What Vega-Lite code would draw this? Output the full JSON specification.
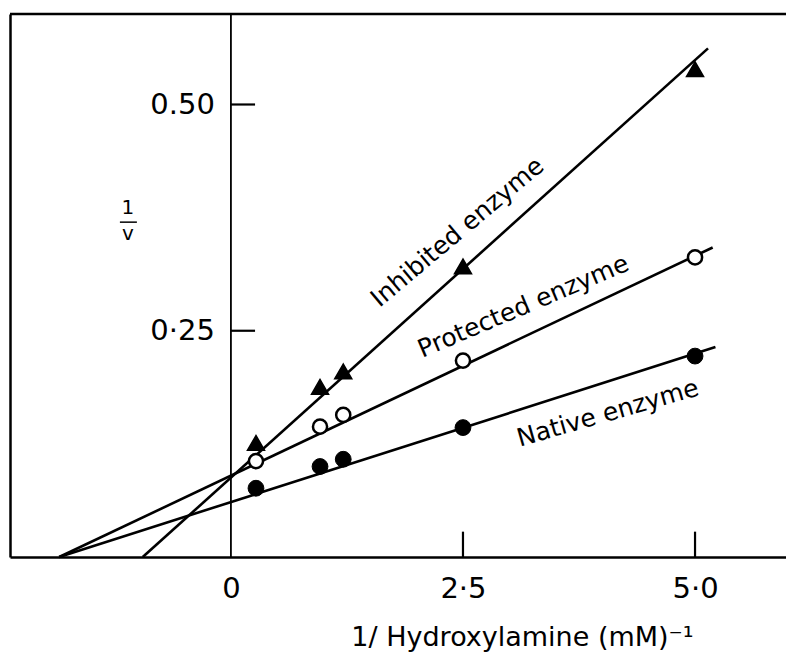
{
  "$schema": "https://vega.github.io/schema/vega-lite/v6.json",
  "width": 776,
  "height": 543,
  "autosize": {"type": "none"},
  "padding": {"left": 10, "top": 14, "right": 0, "bottom": 95},
  "background": "white",
  "config": {"view": {"stroke": null}, "font": "DejaVu Sans"},
  "datasets": {
    "points": [
      {"series": "Inhibited", "x": 0.27, "y": 0.126},
      {"series": "Inhibited", "x": 0.96, "y": 0.188},
      {"series": "Inhibited", "x": 1.21, "y": 0.205},
      {"series": "Inhibited", "x": 2.5, "y": 0.321},
      {"series": "Inhibited", "x": 5.0, "y": 0.539},
      {"series": "Protected", "x": 0.27, "y": 0.106},
      {"series": "Protected", "x": 0.96, "y": 0.144},
      {"series": "Protected", "x": 1.21, "y": 0.157},
      {"series": "Protected", "x": 2.5, "y": 0.217},
      {"series": "Protected", "x": 5.0, "y": 0.331},
      {"series": "Native", "x": 0.27, "y": 0.076},
      {"series": "Native", "x": 0.96, "y": 0.1},
      {"series": "Native", "x": 1.21, "y": 0.108},
      {"series": "Native", "x": 2.5, "y": 0.143},
      {"series": "Native", "x": 5.0, "y": 0.222}
    ],
    "lines": [
      {"series": "Inhibited", "x": -0.95, "y": 0},
      {"series": "Inhibited", "x": 5.14, "y": 0.562},
      {"series": "Protected", "x": -1.85, "y": 0},
      {"series": "Protected", "x": 5.19, "y": 0.342},
      {"series": "Native", "x": -1.85, "y": 0},
      {"series": "Native", "x": 5.22, "y": 0.232}
    ],
    "yticks": [
      {"y": 0.25, "x": 0, "x2": 0.26, "label": "0·25"},
      {"y": 0.5, "x": 0, "x2": 0.26, "label": "0.50"}
    ],
    "xticks": [
      {"x": 2.5, "y": 0, "y2": 0.028},
      {"x": 5.0, "y": 0, "y2": 0.028}
    ],
    "frame": [
      {"x": 0, "ytop": 0.6}
    ],
    "labels": [
      {"series": "Inhibited", "text": "Inhibited enzyme", "x": 2.44, "y": 0.359},
      {"series": "Protected", "text": "Protected enzyme", "x": 3.15, "y": 0.277},
      {"series": "Native", "text": "Native enzyme", "x": 4.06, "y": 0.159}
    ],
    "frac": [
      {"x": -1.11, "y": 0.386, "t": "1"},
      {"x": -1.11, "y": 0.357, "t": "v"}
    ],
    "fracbar": [
      {"x": -1.196, "x2": -1.013, "y": 0.37}
    ]
  },
  "layer": [
    {
      "data": {"name": "lines"},
      "mark": {"type": "line", "color": "black", "strokeWidth": 2.6},
      "encoding": {
        "x": {
          "field": "x", "type": "quantitative",
          "scale": {"domain": [-2.38, 5.98], "nice": false, "zero": false},
          "axis": {
            "values": [0, 2.5, 5],
            "labelExpr": "datum.value == 0 ? '0' : datum.value == 2.5 ? '2·5' : '5·0'",
            "ticks": false, "tickSize": 0, "grid": false,
            "domainColor": "black", "domainWidth": 2.5,
            "labelFontSize": 29, "labelColor": "black", "labelPadding": 40,
            "labelBaseline": "alphabetic", "labelFlush": false,
            "title": "1/ Hydroxylamine (mM)⁻¹",
            "titleFontSize": 27, "titleFontWeight": "normal", "titleColor": "black",
            "titleX": 512, "titleY": 88, "titleBaseline": "alphabetic", "titleAlign": "center"
          }
        },
        "y": {
          "field": "y", "type": "quantitative",
          "scale": {"domain": [0, 0.6], "nice": false, "zero": false},
          "axis": {
            "domain": true, "domainColor": "black", "domainWidth": 2.5,
            "ticks": false, "tickSize": 0, "labels": false, "grid": false, "title": null
          }
        },
        "detail": {"field": "series"}
      }
    },
    {
      "data": {"name": "frame"},
      "mark": {"type": "rule", "color": "black", "strokeWidth": 2.5},
      "encoding": {"y": {"field": "ytop", "type": "quantitative"}}
    },
    {
      "data": {"name": "frame"},
      "mark": {"type": "rule", "color": "black", "strokeWidth": 1.8},
      "encoding": {"x": {"field": "x", "type": "quantitative"}}
    },
    {
      "data": {"name": "yticks"},
      "mark": {"type": "rule", "color": "black", "strokeWidth": 2.2},
      "encoding": {
        "x": {"field": "x", "type": "quantitative"},
        "x2": {"field": "x2"},
        "y": {"field": "y", "type": "quantitative"}
      }
    },
    {
      "data": {"name": "yticks"},
      "mark": {"type": "text", "align": "right", "baseline": "middle", "dx": -16, "fontSize": 29, "color": "black"},
      "encoding": {
        "x": {"field": "x", "type": "quantitative"},
        "y": {"field": "y", "type": "quantitative"},
        "text": {"field": "label"}
      }
    },
    {
      "data": {"name": "xticks"},
      "mark": {"type": "rule", "color": "black", "strokeWidth": 2.2},
      "encoding": {
        "x": {"field": "x", "type": "quantitative"},
        "y": {"field": "y", "type": "quantitative"},
        "y2": {"field": "y2"}
      }
    },
    {
      "data": {"name": "points"},
      "transform": [{"filter": "datum.series == 'Inhibited'"}],
      "mark": {"type": "point", "shape": "triangle-up", "filled": true, "fill": "black", "stroke": "black", "strokeWidth": 1.5, "size": 290, "opacity": 1},
      "encoding": {
        "x": {"field": "x", "type": "quantitative"},
        "y": {"field": "y", "type": "quantitative"}
      }
    },
    {
      "data": {"name": "points"},
      "transform": [{"filter": "datum.series == 'Protected'"}],
      "mark": {"type": "point", "shape": "circle", "filled": true, "fill": "white", "stroke": "black", "strokeWidth": 2.5, "size": 200, "opacity": 1},
      "encoding": {
        "x": {"field": "x", "type": "quantitative"},
        "y": {"field": "y", "type": "quantitative"}
      }
    },
    {
      "data": {"name": "points"},
      "transform": [{"filter": "datum.series == 'Native'"}],
      "mark": {"type": "point", "shape": "circle", "filled": true, "fill": "black", "stroke": "black", "strokeWidth": 1, "size": 250, "opacity": 1},
      "encoding": {
        "x": {"field": "x", "type": "quantitative"},
        "y": {"field": "y", "type": "quantitative"}
      }
    },
    {
      "data": {"name": "labels"},
      "transform": [{"filter": "datum.series == 'Inhibited'"}],
      "mark": {"type": "text", "align": "center", "baseline": "middle", "angle": 320, "fontSize": 25, "color": "black"},
      "encoding": {
        "x": {"field": "x", "type": "quantitative"},
        "y": {"field": "y", "type": "quantitative"},
        "text": {"field": "text"}
      }
    },
    {
      "data": {"name": "labels"},
      "transform": [{"filter": "datum.series == 'Protected'"}],
      "mark": {"type": "text", "align": "center", "baseline": "middle", "angle": 337, "fontSize": 25, "color": "black"},
      "encoding": {
        "x": {"field": "x", "type": "quantitative"},
        "y": {"field": "y", "type": "quantitative"},
        "text": {"field": "text"}
      }
    },
    {
      "data": {"name": "labels"},
      "transform": [{"filter": "datum.series == 'Native'"}],
      "mark": {"type": "text", "align": "center", "baseline": "middle", "angle": 344, "fontSize": 25, "color": "black"},
      "encoding": {
        "x": {"field": "x", "type": "quantitative"},
        "y": {"field": "y", "type": "quantitative"},
        "text": {"field": "text"}
      }
    },
    {
      "data": {"name": "frac"},
      "mark": {"type": "text", "align": "center", "baseline": "middle", "fontSize": 20, "color": "black"},
      "encoding": {
        "x": {"field": "x", "type": "quantitative"},
        "y": {"field": "y", "type": "quantitative"},
        "text": {"field": "t"}
      }
    },
    {
      "data": {"name": "fracbar"},
      "mark": {"type": "rule", "color": "black", "strokeWidth": 1.5},
      "encoding": {
        "x": {"field": "x", "type": "quantitative"},
        "x2": {"field": "x2"},
        "y": {"field": "y", "type": "quantitative"}
      }
    }
  ]
}
